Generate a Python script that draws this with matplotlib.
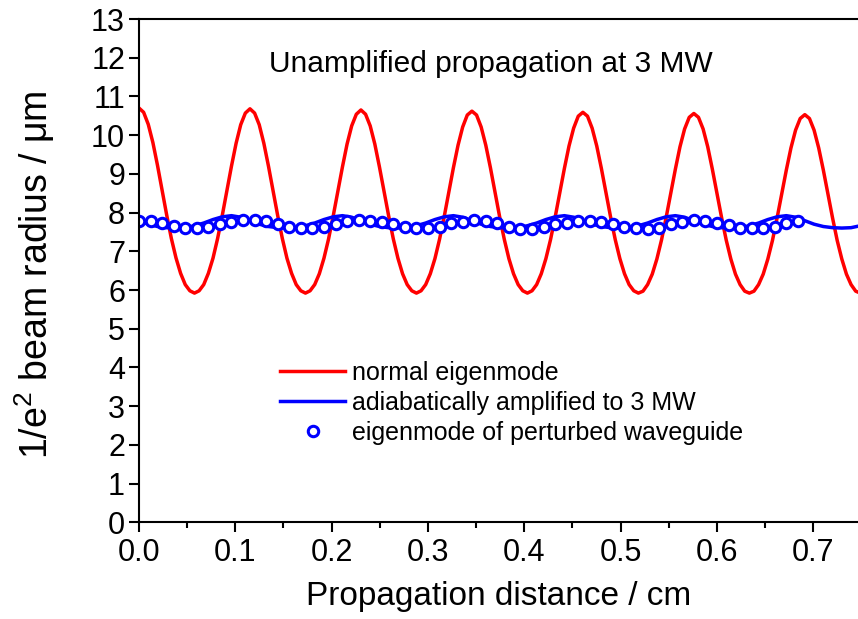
"""Beam radius along the waveguide: unamplified propagation at 3 MW."""
import numpy as np
import matplotlib
matplotlib.use("Agg")
import matplotlib.pyplot as plt
from matplotlib.ticker import MultipleLocator, FormatStrFormatter

plt.rcParams["font.family"] = ["Liberation Sans", "DejaVu Sans"]
plt.rcParams["mathtext.fontset"] = "custom"
plt.rcParams["mathtext.rm"] = "Liberation Sans"
plt.rcParams["mathtext.it"] = "Liberation Sans:italic"

# propagation distance (cm) for the curves
red_z = np.arange(157) * 0.0048
blue_z = np.arange(79) * 0.0096
circle_z = np.arange(58) * 0.012

# normal eigenmode (um)
red_radius = [
    10.70, 10.59, 10.28, 9.81, 9.22, 8.57, 7.93, 7.33, 6.83, 6.43, 6.14, 5.98,
    5.92, 5.98, 6.14, 6.43, 6.82, 7.33, 7.92, 8.56, 9.20, 9.79, 10.27, 10.57,
    10.68, 10.57, 10.27, 9.79, 9.20, 8.56, 7.92, 7.33, 6.82, 6.43, 6.14, 5.98,
    5.92, 5.98, 6.14, 6.42, 6.82, 7.32, 7.91, 8.54, 9.18, 9.77, 10.24, 10.54,
    10.65, 10.54, 10.24, 9.77, 9.18, 8.54, 7.91, 7.32, 6.82, 6.42, 6.14, 5.98,
    5.92, 5.98, 6.14, 6.42, 6.81, 7.31, 7.89, 8.53, 9.16, 9.74, 10.21, 10.52,
    10.62, 10.52, 10.21, 9.74, 9.16, 8.53, 7.89, 7.31, 6.81, 6.42, 6.14, 5.98,
    5.92, 5.98, 6.14, 6.42, 6.81, 7.30, 7.88, 8.51, 9.14, 9.72, 10.18, 10.49,
    10.59, 10.49, 10.18, 9.72, 9.14, 8.51, 7.88, 7.30, 6.81, 6.42, 6.14, 5.98,
    5.92, 5.97, 6.14, 6.41, 6.80, 7.29, 7.87, 8.49, 9.12, 9.70, 10.16, 10.46,
    10.56, 10.46, 10.16, 9.70, 9.12, 8.49, 7.87, 7.29, 6.80, 6.41, 6.14, 5.97,
    5.92, 5.97, 6.14, 6.41, 6.80, 7.28, 7.86, 8.48, 9.10, 9.67, 10.13, 10.43,
    10.53, 10.43, 10.13, 9.67, 9.10, 8.48, 7.86, 7.28, 6.80, 6.41, 6.14, 5.97,
    5.92,
]

# adiabatically amplified to 3 MW (um)
blue_radius = [
    7.79, 7.70, 7.64, 7.61, 7.60, 7.61, 7.66, 7.73, 7.82, 7.89, 7.92, 7.88,
    7.79, 7.70, 7.64, 7.61, 7.60, 7.61, 7.66, 7.73, 7.82, 7.89, 7.92, 7.88,
    7.79, 7.70, 7.64, 7.61, 7.60, 7.61, 7.66, 7.73, 7.82, 7.89, 7.92, 7.88,
    7.79, 7.70, 7.64, 7.61, 7.60, 7.61, 7.66, 7.73, 7.82, 7.89, 7.92, 7.88,
    7.79, 7.70, 7.64, 7.61, 7.60, 7.61, 7.66, 7.73, 7.82, 7.89, 7.92, 7.88,
    7.79, 7.70, 7.64, 7.61, 7.60, 7.61, 7.66, 7.73, 7.82, 7.89, 7.92, 7.88,
    7.79, 7.70, 7.64, 7.61, 7.60, 7.61, 7.66,
]

# eigenmode of perturbed waveguide (um)
circle_radius = [
    7.79, 7.77, 7.73, 7.66, 7.60, 7.59, 7.64, 7.70, 7.76, 7.80,
    7.80, 7.77, 7.70, 7.64, 7.60, 7.61, 7.63, 7.70, 7.77, 7.80,
    7.78, 7.75, 7.70, 7.64, 7.60, 7.60, 7.64, 7.73, 7.76, 7.80,
    7.78, 7.72, 7.64, 7.58, 7.57, 7.63, 7.70, 7.73, 7.78, 7.79,
    7.76, 7.70, 7.64, 7.60, 7.58, 7.61, 7.70, 7.76, 7.80, 7.78,
    7.74, 7.69, 7.61, 7.59, 7.61, 7.64, 7.72, 7.77,
]

fig = plt.figure(figsize=(8.58, 6.19), dpi=100)
ax = fig.add_axes([139 / 858, 1 - 522.3 / 619, 1 - 139 / 858, (522.3 - 19) / 619])

ax.plot(red_z, red_radius, color="#ff0000", lw=2.5, label="normal eigenmode")
ax.plot(blue_z, blue_radius, color="#0000ff", lw=2.5, label="adiabatically amplified to 3 MW")
ax.plot(circle_z, circle_radius, ls="none", marker="o", ms=7.5, mew=2.2,
        mec="#0000ff", mfc="white", label="eigenmode of perturbed waveguide")

ax.set_xlim(0, 0.7464)
ax.set_ylim(0, 13)
ax.xaxis.set_major_locator(MultipleLocator(0.1))
ax.xaxis.set_minor_locator(MultipleLocator(0.05))
ax.xaxis.set_major_formatter(FormatStrFormatter("%.1f"))
ax.yaxis.set_major_locator(MultipleLocator(1))

for side in ["left", "bottom", "top"]:
    ax.spines[side].set_linewidth(1.5)
ax.spines["right"].set_visible(False)
ax.tick_params(which="major", direction="out", length=7, width=1.5,
               labelsize=22, pad=3, top=False, right=False)
ax.tick_params(axis="x", which="major", pad=4.5)
ax.tick_params(which="minor", direction="out", length=4, width=1.5,
               top=False, right=False, left=False)

ax.set_xlabel("Propagation distance / cm", fontsize=24)
ax.set_ylabel("1/e$^2$ beam radius / μm", fontsize=27)
ax.xaxis.set_label_coords(0.5, -(581 - 522.3) / 503.3)
ax.yaxis.set_label_coords(-(139 - 57) / 719, (522.3 - 275) / 503.3)

ax.text(0.49, 0.911, "Unamplified propagation at 3 MW", transform=ax.transAxes,
        ha="center", va="center", fontsize=21.5)

ax.legend(loc="upper left", bbox_to_anchor=(280 / 858, 1 - 361 / 619),
          bbox_transform=fig.transFigure, frameon=False, fontsize=18,
          handlelength=2.6, handletextpad=0.28, labelspacing=0.24,
          borderpad=0, borderaxespad=0)

fig.savefig("out.png", dpi=100)
